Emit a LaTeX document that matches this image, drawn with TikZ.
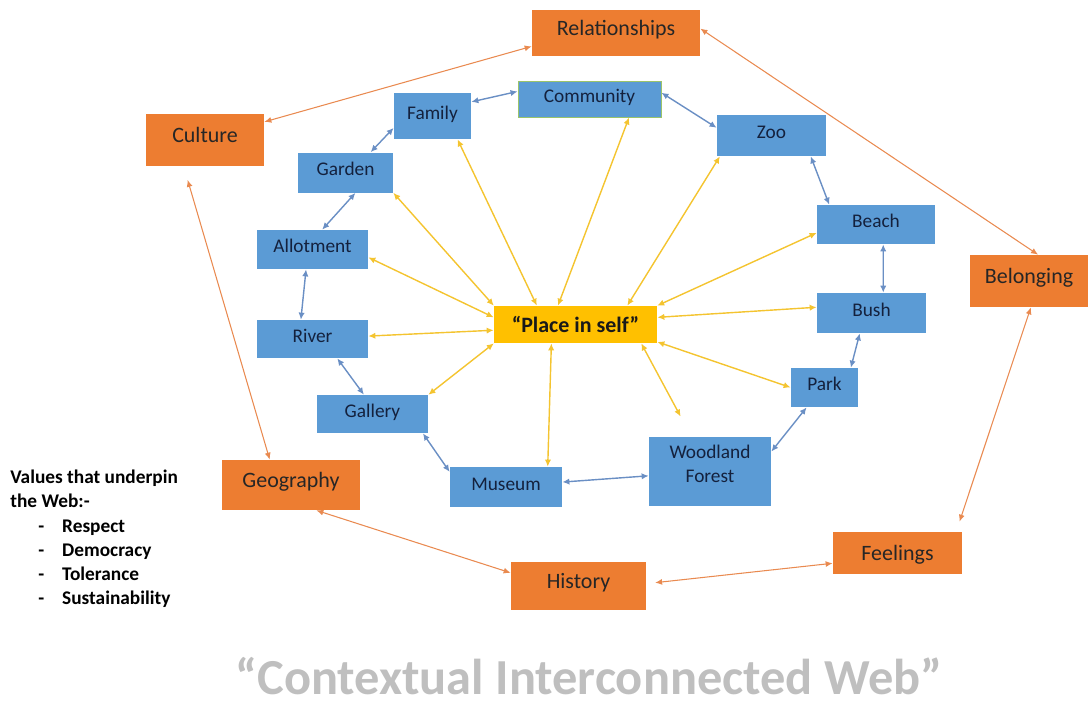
\documentclass[tikz,border=0pt]{standalone}
\usepackage{fontspec}
\setmainfont{Carlito}
\usetikzlibrary{arrows.meta}
\definecolor{obox}{HTML}{ED7D31}
\definecolor{bbox}{HTML}{5B9BD5}
\definecolor{ybox}{HTML}{FFC000}
\definecolor{yline}{HTML}{F4C430}
\definecolor{bline}{HTML}{6A8FC4}
\definecolor{oline}{HTML}{E98A50}
\definecolor{btext}{HTML}{14213D}
\definecolor{tgray}{HTML}{BFBFBF}
\definecolor{cline}{HTML}{9BC46A}
\newcommand{\vitem}[1]{\makebox[29.5pt][l]{\hspace*{15.9pt}-}#1}
\begin{document}
\begin{tikzpicture}[x=0.02cm,y=-0.02cm,
  ob/.style={fill=obox,inner sep=0pt,text=black!85,text height=8.6pt,text depth=6pt,font=\fontsize{12.5}{15}\selectfont},
  bb/.style={fill=bbox,inner sep=0pt,text=btext,text height=7.6pt,text depth=4pt,font=\fontsize{11}{13.6}\selectfont},
  yb/.style={fill=ybox,inner sep=0pt,text=black!90,font=\bfseries\fontsize{12.5}{15}\selectfont},
  ya/.style={yline,line width=.8pt,<->,>={Latex[length=4pt,width=3.6pt]}},
  ba/.style={bline,line width=.8pt,<->,>={Latex[length=4pt,width=3.6pt]}},
  oa/.style={oline,line width=.6pt,<->,>={Latex[length=4pt,width=3.4pt]}}]
\useasboundingbox (0,0) rectangle (1088,708);
\node[ob,minimum width=3.36cm,minimum height=.92cm] (rel) at (616,33) {Relationships};
\node[ob,minimum width=2.36cm,minimum height=1.04cm] (cult) at (205,140) {Culture};
\node[ob,minimum width=2.36cm,minimum height=1.04cm] (belong) at (1029,281) {Belonging};
\node[ob,minimum width=2.76cm,minimum height=1cm] (geo) at (291,485) {Geography};
\node[ob,minimum width=2.7cm,minimum height=.96cm] (hist) at (578.5,586) {History};
\node[ob,text depth=0pt,minimum width=2.58cm,minimum height=.84cm] (feel) at (897.5,553) {Feelings};
\node[bb,minimum width=1.54cm,minimum height=.92cm] (family) at (432.5,116) {Family};
\node[bb,draw=cline,line width=.5pt,minimum width=2.86cm,minimum height=.72cm] (comm) at (589.5,99) {Community};
\node[bb,minimum width=2.18cm,minimum height=.82cm] (zoo) at (771.5,135.5) {Zoo};
\node[bb,minimum width=1.9cm,minimum height=.8cm] (garden) at (345.5,172.5) {Garden};
\node[bb,minimum width=2.36cm,minimum height=.78cm] (beach) at (876,224.5) {Beach};
\node[bb,minimum width=2.22cm,minimum height=.78cm] (allot) at (312.5,249.5) {Allotment};
\node[bb,minimum width=2.18cm,minimum height=.8cm] (bush) at (871.5,313) {Bush};
\node[bb,minimum width=2.22cm,minimum height=.76cm] (river) at (312.5,339) {River};
\node[bb,minimum width=1.34cm,minimum height=.78cm] (park) at (824.5,387.5) {Park};
\node[bb,minimum width=2.22cm,minimum height=.76cm] (gallery) at (372.5,414) {Gallery};
\node[bb,text height=,text depth=,align=center,minimum width=2.44cm,minimum height=1.38cm] (wood) at (710,471.5) {Woodland\\Forest\\[-5pt]};
\node[bb,minimum width=2.24cm,minimum height=.8cm] (museum) at (506,487) {Museum};
\node[yb,minimum width=3.26cm,minimum height=.74cm] (place) at (575.5,324.5) {“Place in self”};
\path[ya]
  (place.154) edge (family.-43)
  (place.133) edge (comm.-25)
  (place.20) edge (zoo.-158)
  (place.13) edge (beach.-172)
  (place.5) edge (bush.174)
  (place.-12) edge (park.180)
  (place.-16) edge[shorten >=13pt] (wood.118)
  (place.-142) edge (museum.26)
  (place.-167) edge (gallery.19)
  (place.-176) edge (river.3)
  (place.175) edge (allot.-8)
  (place.167) edge (garden.-23);
\path[ba]
  (family.20) edge (comm.174)
  (comm.5) edge (zoo.172)
  (zoo.-28) edge (beach.157)
  (beach.-70) edge (bush.60)
  (bush.-120) edge (park.37)
  (park.-132) edge (wood.18)
  (wood.184) edge (museum.5)
  (museum.165) edge (gallery.-21)
  (gallery.114) edge (river.-38)
  (river.121) edge (allot.-108)
  (allot.64) edge (garden.-64)
  (garden.39) edge (family.197);
\path[oa]
  (cult.17) edge (rel.189)
  (rel.3) edge (belong.71)
  (belong.-86) edge[shorten >=6pt] (feel.20)
  (feel.189) edge[shorten >=5pt] (hist.2)
  (hist.169) edge (geo.-45)
  (geo.130) edge[shorten >=8pt] (cult.-129);
\node[anchor=north west,align=left,inner sep=0pt,font=\bfseries\fontsize{11}{13.7}\selectfont] (vals) at (10,470)
  {Values that underpin\\the Web:-\\\vitem{Respect}\\\vitem{Democracy}\\\vitem{Tolerance}\\\vitem{Sustainability}};
\node[anchor=base,inner sep=0pt,text=tgray,font=\bfseries\fontsize{28.7}{30}\selectfont] (title) at (589,694) {“Contextual Interconnected Web”};
\end{tikzpicture}
\end{document}
